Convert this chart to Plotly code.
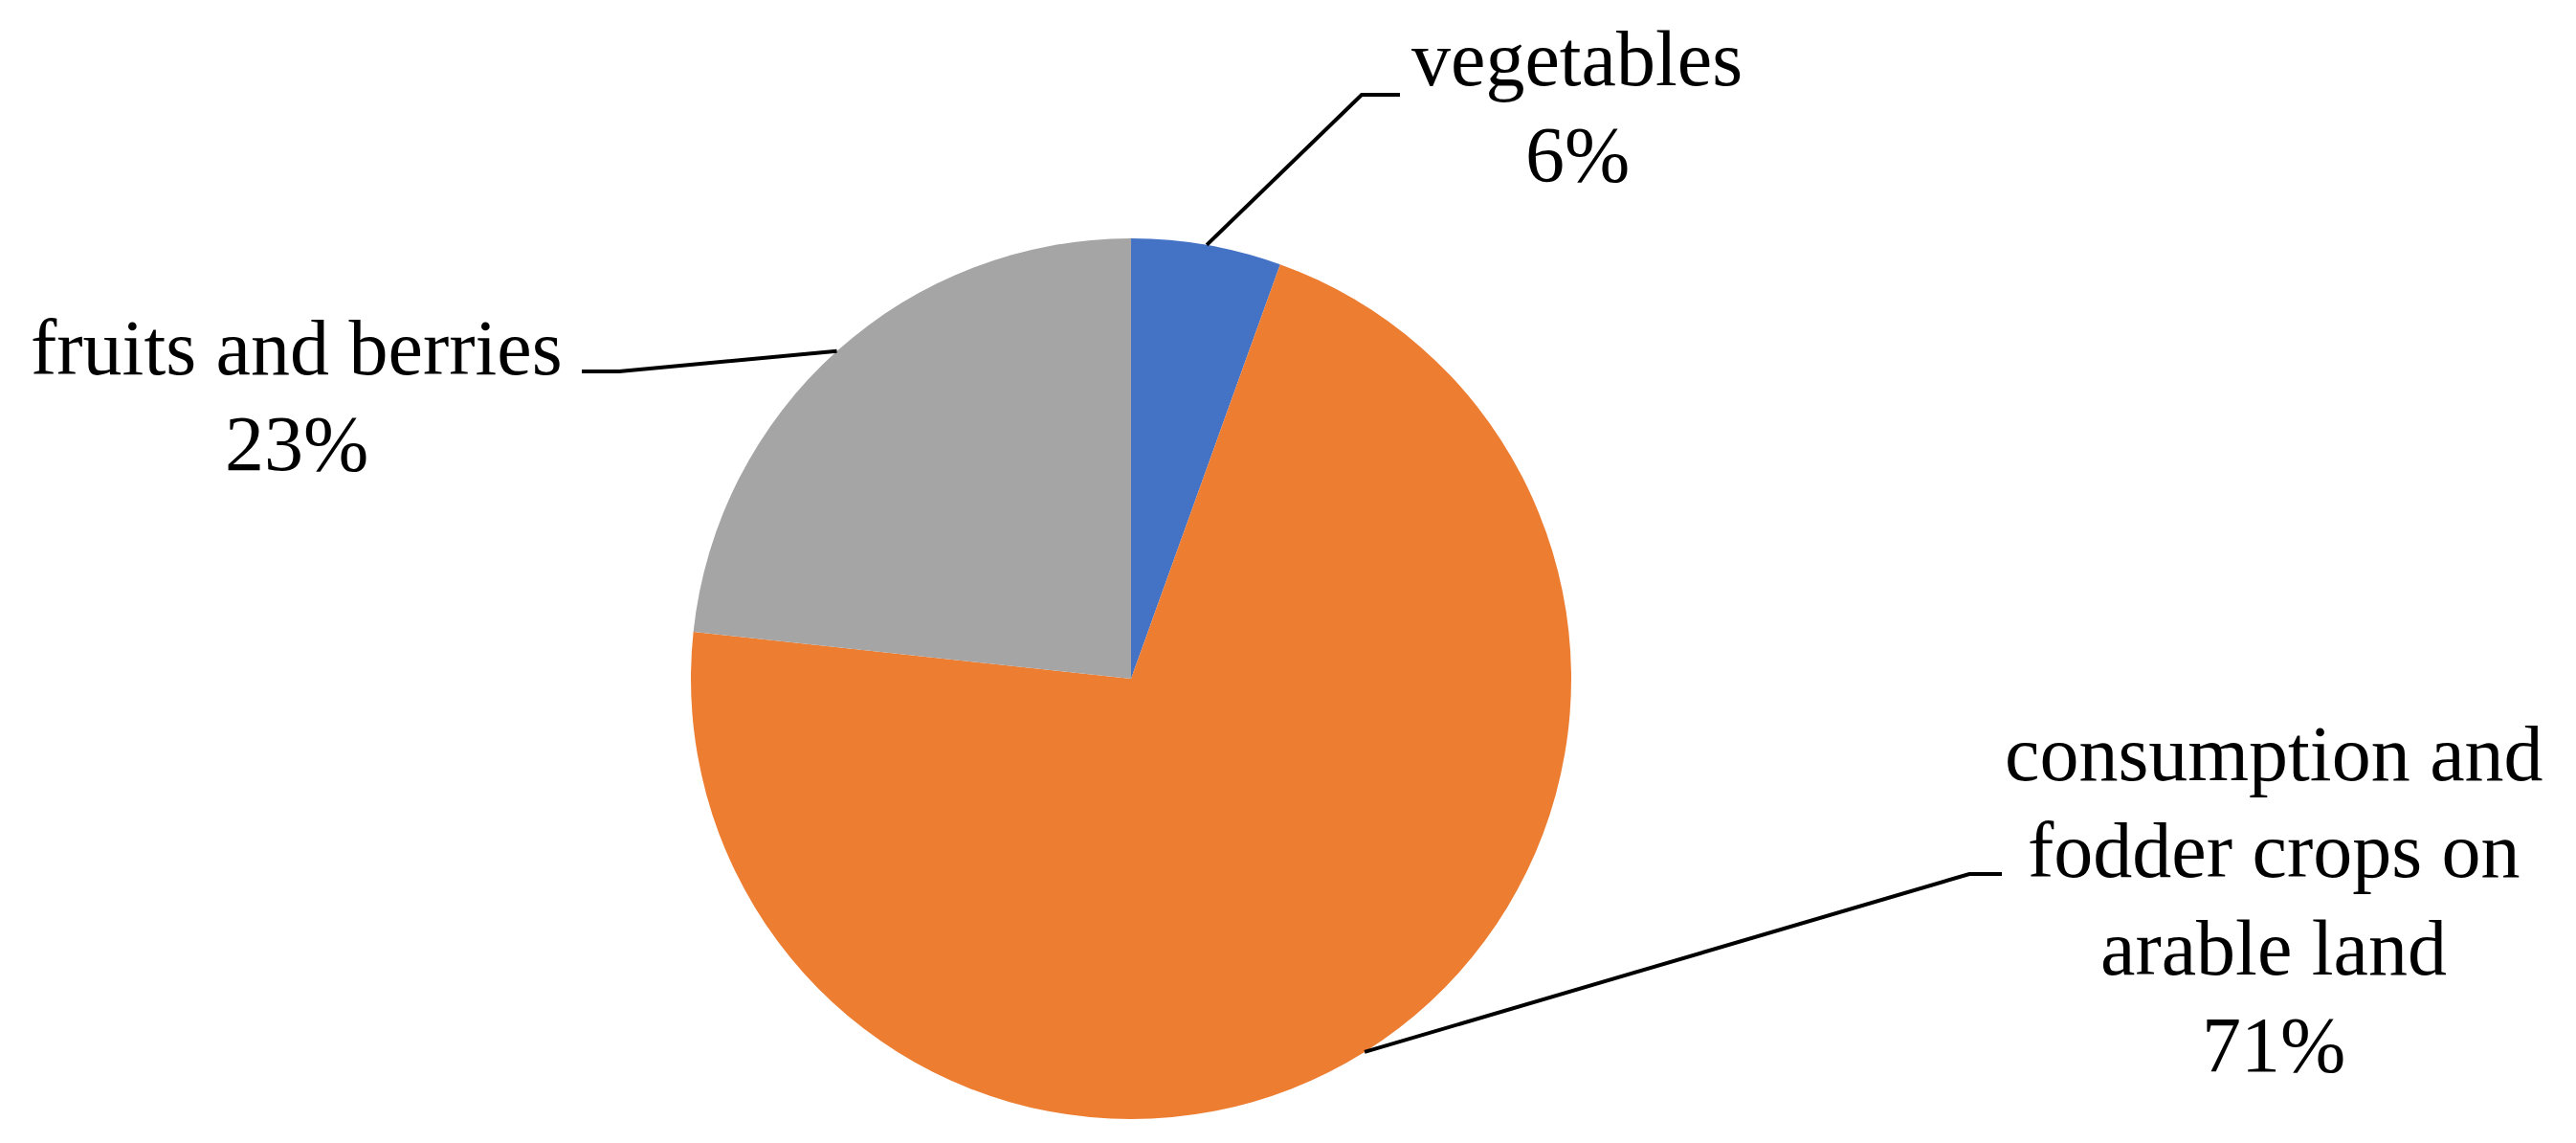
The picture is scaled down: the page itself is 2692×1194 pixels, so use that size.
import math
import plotly.graph_objects as go

# ---- data ----
categories = ["vegetables", "consumption and fodder crops on arable land", "fruits and berries"]
label_lines = [["vegetables"], ["consumption and", "fodder crops on", "arable land"], ["fruits and berries"]]
values = [5.5, 71.2, 23.3]
colors = ["#4472C4", "#ED7D31", "#A5A5A5"]

# ---- layout constants (pixels) ----
W, H = 2692, 1194
CX, CY, R = 1182, 709, 460
FONT = "Liberation Serif"
FS = 82
BASE_SHIFT = 0.30 * FS  # baseline offset from text-box middle

# label placement: (text center x, first baseline y, baseline gap, elbow x, elbow y, end x)
label_pos = [
    (1648, 86, 100, 1423, 99, 1463),
    (2376, 812, 101.3, 2058, 913, 2092),
    (310, 388, 100, 647, 388, 608),
]

def px_to_paper(x, y):
    return x / W, 1 - y / H

fig = go.Figure(go.Pie(
    labels=categories,
    values=values,
    sort=False,
    direction="clockwise",
    rotation=0,
    marker=dict(colors=colors, line=dict(width=0)),
    textinfo="none",
    hoverinfo="label+percent",
    showlegend=False,
    domain=dict(x=[(CX - R) / W, (CX + R) / W], y=[1 - (CY + R) / H, 1 - (CY - R) / H]),
))

total = sum(values)
cum = 0.0
shapes = []
annotations = []
for i, v in enumerate(values):
    mid = (cum + v / 2) / total * 2 * math.pi
    cum += v
    ax = CX + R * math.sin(mid)
    ay = CY - R * math.cos(mid)
    tx, by, gap, ex, ey, endx = label_pos[i]
    pts = [(ax, ay), (ex, ey), (endx, ey)]
    path = ""
    for j, (x, y) in enumerate(pts):
        px, py = px_to_paper(x, y)
        path += ("M" if j == 0 else "L") + f"{px},{py} "
    shapes.append(dict(type="path", path=path.strip(), xref="paper", yref="paper",
                       line=dict(color="black", width=4)))
    lines = label_lines[i] + [f"{round(v / total * 100)}%"]
    for k, t in enumerate(lines):
        px, py = px_to_paper(tx, by + k * gap - BASE_SHIFT)
        annotations.append(dict(text=t, x=px, y=py, xref="paper", yref="paper",
                                xanchor="center", yanchor="middle", showarrow=False,
                                font=dict(family=FONT, size=FS, color="black")))

fig.update_layout(
    width=W, height=H,
    margin=dict(l=0, r=0, t=0, b=0),
    paper_bgcolor="white", plot_bgcolor="white",
    shapes=shapes, annotations=annotations,
)

fig.write_html("out.html", config={"displayModeBar": False},
               post_script="document.body.style.margin='0px';")
